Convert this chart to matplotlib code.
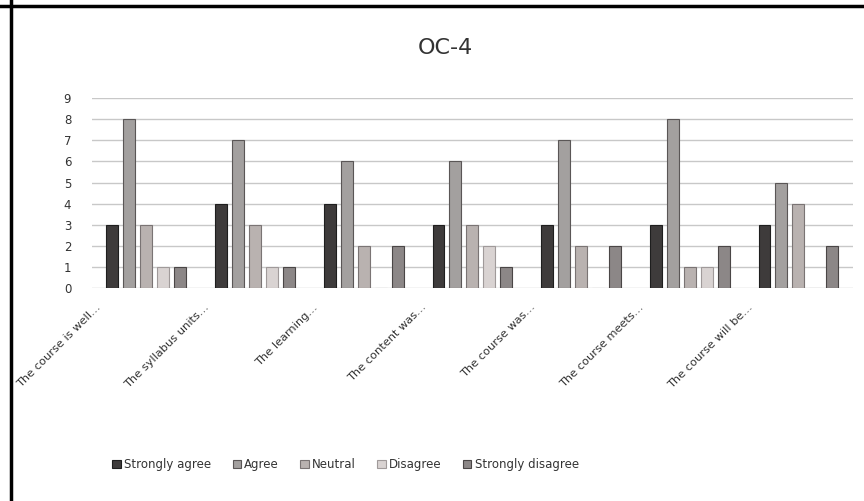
import matplotlib.pyplot as plt
import matplotlib.transforms as mtransforms
from matplotlib.lines import Line2D
import numpy as np

# Datos del gráfico
categorias = ['The course is well…', 'The syllabus units…', 'The learning…',
              'The content was…', 'The course was…', 'The course meets…',
              'The course will be…']
series = ['Strongly agree', 'Agree', 'Neutral', 'Disagree', 'Strongly disagree']
strongly_agree = [3, 4, 4, 3, 3, 3, 3]
agree = [8, 7, 6, 6, 7, 8, 5]
neutral = [3, 3, 2, 3, 2, 1, 4]
disagree = [1, 1, 0, 2, 0, 1, 0]
strongly_disagree = [1, 1, 2, 1, 2, 2, 2]
valores = [strongly_agree, agree, neutral, disagree, strongly_disagree]

colores = ['#3e3b3b', '#a3a09f', '#b9b2b0', '#d9d3d2', '#8c8787']
bordes = ['#1e1e1e', '#5a5656', '#7a7474', '#a09a9a', '#4a4646']

fig = plt.figure(figsize=(8.64, 5.01), dpi=100)
ax = fig.add_axes([0.1065, 0.425, 0.8805, 0.379])

x = np.arange(len(categorias))
paso = 0.156
ancho = 0.11
for i, (nombre, vals) in enumerate(zip(series, valores)):
    ax.bar(x + (i - 2) * paso, vals, width=ancho, color=colores[i],
           edgecolor=bordes[i], linewidth=0.8, label=nombre, zorder=3)

ax.set_xlim(-0.5, len(categorias) - 0.5)
ax.set_ylim(0, 9)
ax.set_yticks(range(0, 10))
ax.grid(axis='y', color='#c8c8c8', linewidth=1, zorder=0)
for s in ax.spines.values():
    s.set_visible(False)
ax.tick_params(axis='both', length=0, labelsize=8.5, colors='#333333')
ax.tick_params(axis='y', pad=15)

ax.set_xticks(x)
ax.set_xticklabels(categorias, rotation=45, ha='right', va='top',
                   fontsize=8.2, color='#333333')
ax.tick_params(axis='x', pad=10)
desplaza = mtransforms.ScaledTranslation(-0.44, 0, fig.dpi_scale_trans)
for lbl in ax.get_xticklabels():
    lbl.set_transform(lbl.get_transform() + desplaza)

fig.text(0.515, 0.905, 'OC-4', ha='center', va='center', fontsize=16,
         color='#333333')

fig.legend(loc='center', bbox_to_anchor=(0.40, 0.072), ncol=5, frameon=False,
           fontsize=8.5, handlelength=0.7, handleheight=0.7, handletextpad=0.3,
           columnspacing=1.8, labelcolor='#333333')

# Bordes de la tabla escaneada
fig.add_artist(Line2D([0, 1], [0.988, 0.988], color='black', linewidth=2.5,
                      transform=fig.transFigure))
fig.add_artist(Line2D([0.0127, 0.0127], [0, 1], color='black', linewidth=2.5,
                      transform=fig.transFigure))

fig.savefig('out.png', dpi=100)
